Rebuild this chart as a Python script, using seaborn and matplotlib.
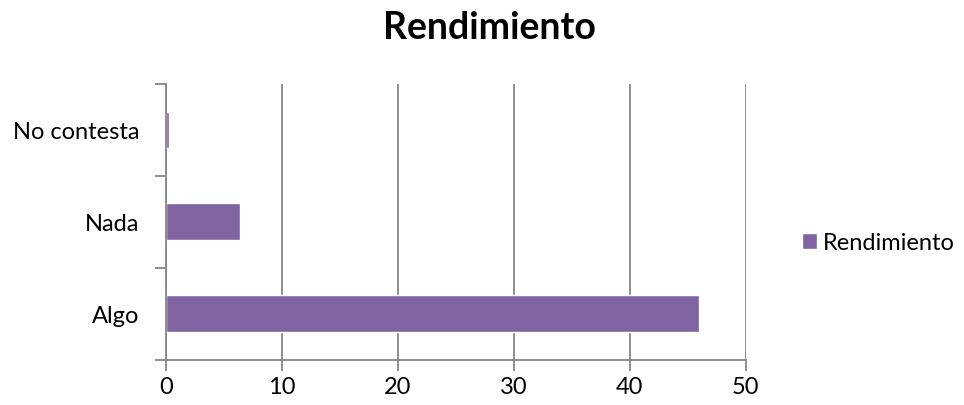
import matplotlib
matplotlib.use("Agg")
import matplotlib.pyplot as plt
import seaborn as sns
import pandas as pd

categories = ["No contesta", "Nada", "Algo"]
values = [0.3, 6.4, 46.0]
series_name = "Rendimiento"
xticks = [0, 10, 20, 30, 40, 50]

sns.set_theme(style="white")
plt.rcParams['font.family'] = ['Lato', 'DejaVu Sans']

df = pd.DataFrame({"cat": categories, "val": values, "serie": series_name})

fig = plt.figure(figsize=(9.64, 4.06), dpi=100)
ax = fig.add_axes([0.1722, 0.1116, 0.6013, 0.679])
sns.barplot(data=df, y="cat", x="val", hue="serie", order=categories,
            palette=["#8064A2"], width=0.4, ax=ax, orient="h", saturation=1)

ax.set_xlim(0, 50)
ax.set_xticks(xticks)
ax.set_ylim(2.5, -0.5)
ax.set_xlabel("")
ax.set_ylabel("")
gc = "#868686"
ax.grid(axis="x", color=gc, linewidth=1.3)
ax.set_axisbelow(True)
for s in ["top", "right"]:
    ax.spines[s].set_visible(False)
for s in ["left", "bottom"]:
    ax.spines[s].set_color(gc)
    ax.spines[s].set_linewidth(1.3)
ax.set_yticks([-0.5, 0.5, 1.5, 2.5], minor=True)
ax.tick_params(axis="y", which="major", length=0, labelsize=17, pad=19, labelcolor="black")
ax.tick_params(axis="y", which="minor", length=8, width=1.3, color=gc, direction="out", left=True)
ax.tick_params(axis="x", length=8, width=1.3, color=gc, direction="out", bottom=True, labelsize=17, labelcolor="black", pad=4)

fig.suptitle("Rendimiento", x=0.508, y=0.972, fontsize=27, fontweight="bold", va="top", color="black")

leg = ax.legend(loc="center left", bbox_to_anchor=(1.097, 0.425), frameon=False,
          fontsize=17, handlelength=0.65, handleheight=0.65, handletextpad=0.25,
          borderaxespad=0, borderpad=0)
for t in leg.get_texts():
    t.set_color("black")

fig.savefig("out.png", dpi=100)
